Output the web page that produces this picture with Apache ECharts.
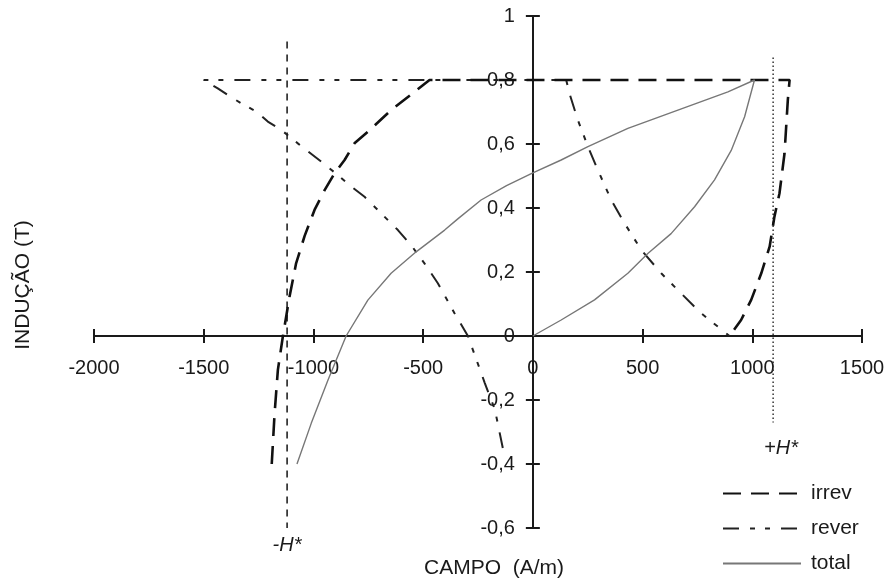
<!DOCTYPE html>
<html>
<head>
<meta charset="utf-8">
<script src="https://cdn.jsdelivr.net/npm/echarts@6/dist/echarts.min.js"></script>
<style>
  html, body { margin: 0; padding: 0; background: #fff; }
  #chart { width: 888px; height: 582px; }
</style>
</head>
<body>
<div id="chart"></div>
<script>
// campo H (A/m) e indução B (T)
var irrevH = [-1190, -1177, -1162, -1139, -1109, -1079, -1040, -995, -949, -904, -858, -813, -752, -646, -539, -471, 1170, 1162, 1147, 1124, 1101, 1079, 1041, 995, 949, 896];
var irrevB = [-0.4, -0.242, -0.106, 0, 0.123, 0.227, 0.313, 0.394, 0.456, 0.508, 0.55, 0.602, 0.638, 0.706, 0.763, 0.8, 0.8, 0.738, 0.571, 0.446, 0.373, 0.279, 0.196, 0.113, 0.05, 0];

var reverH = [-137, -173, -219, -296, -357, -433, -494, -555, -615, -691, -767, -828, -889, -965, -1071, -1147, -1208, -1257, -1329, -1390, -1436, -1500, 152, 167, 205, 251, 296, 357, 418, 494, 585, 676, 767, 896];
var reverB = [-0.35, -0.23, -0.147, 0, 0.071, 0.165, 0.227, 0.284, 0.331, 0.383, 0.435, 0.467, 0.503, 0.545, 0.602, 0.644, 0.67, 0.7, 0.727, 0.753, 0.774, 0.8, 0.8, 0.758, 0.675, 0.592, 0.519, 0.425, 0.352, 0.269, 0.196, 0.133, 0.071, 0];

var totalH = [-1075, -1010, -934, -851, -752, -646, -532, -402, -342, -236, -120, 0, 129, 251, 433, 661, 889, 1010, 965, 904, 828, 737, 630, 524, 433, 281, 129, 0];
var totalB = [-0.4, -0.273, -0.138, 0, 0.112, 0.196, 0.263, 0.331, 0.366, 0.425, 0.47, 0.51, 0.55, 0.592, 0.649, 0.706, 0.763, 0.8, 0.685, 0.58, 0.488, 0.404, 0.32, 0.258, 0.196, 0.113, 0.05, 0];

// linhas verticais -H* e +H*
var hMinusH = [-1120, -1120];
var hMinusB = [0.92, -0.6];
var hPlusH = [1095, 1095];
var hPlusB = [0.87, -0.27];

var seriesNames = ['irrev', 'rever', 'total'];

var X_MIN = -2000, X_MAX = 1500, X_STEP = 500;
var Y_MIN = -0.6, Y_MAX = 1, Y_STEP = 0.2;

function pairs(xs, ys) {
    return xs.map(function (x, i) { return [x, ys[i]]; });
}

function fmtY(v) {
    return String(Math.round(v * 10) / 10).replace('.', ',');
}
function fmtX(v) {
    return String(Math.round(v));
}

var FONT = 'Liberation Sans, Arial, sans-serif';
var INK = '#1a1a1a';

var W = 888, H = 582;
var grid = { left: 94, right: 26, top: 16, bottom: 54 };
var gridW = W - grid.left - grid.right;
var gridH = H - grid.top - grid.bottom;
// deslocamento para pôr os rótulos junto aos eixos que cruzam no zero
var xLabelOffset = -gridH * (0 - Y_MIN) / (Y_MAX - Y_MIN);
var yLabelOffset = -gridW * (0 - X_MIN) / (X_MAX - X_MIN);

var myChart = echarts.init(document.getElementById('chart'));

var option = {
    animation: false,
    backgroundColor: '#fff',
    grid: grid,
    xAxis: [
        {
            type: 'value', min: X_MIN, max: X_MAX, interval: X_STEP, position: 'bottom',
            axisLine: { onZero: true, lineStyle: { color: INK, width: 2 } },
            axisTick: { length: 7, lineStyle: { color: INK, width: 2 } },
            axisLabel: { show: false },
            splitLine: { show: false }
        },
        {
            type: 'value', min: X_MIN, max: X_MAX, interval: X_STEP, position: 'bottom',
            offset: xLabelOffset,
            axisLine: { show: false, onZero: false },
            axisTick: { show: true, inside: true, length: 7, lineStyle: { color: INK, width: 2 } },
            axisLabel: { margin: 22, fontSize: 20, color: INK, fontFamily: FONT, formatter: fmtX },
            splitLine: { show: false }
        }
    ],
    yAxis: [
        {
            type: 'value', min: Y_MIN, max: Y_MAX, interval: Y_STEP, position: 'left',
            axisLine: { onZero: true, lineStyle: { color: INK, width: 2 } },
            axisTick: { length: 7, lineStyle: { color: INK, width: 2 } },
            axisLabel: { show: false },
            splitLine: { show: false }
        },
        {
            type: 'value', min: Y_MIN, max: Y_MAX, interval: Y_STEP, position: 'left',
            offset: yLabelOffset,
            axisLine: { show: false, onZero: false },
            axisTick: { show: true, inside: true, length: 7, lineStyle: { color: INK, width: 2 } },
            axisLabel: { margin: 18, fontSize: 20, color: INK, fontFamily: FONT, formatter: fmtY },
            splitLine: { show: false }
        }
    ],
    legend: {
        data: seriesNames,
        orient: 'vertical',
        left: 722, top: 483, padding: 0,
        itemWidth: 78, itemHeight: 14, itemGap: 14,
        itemStyle: { opacity: 0 },
        textStyle: { fontSize: 21, color: INK, fontFamily: FONT, padding: [0, 0, 0, 5], lineHeight: 21 }
    },
    graphic: [
        { type: 'text', x: 23, y: 285, rotation: Math.PI / 2,
          style: { text: 'INDUÇÃO (T)', fontSize: 21, fontFamily: FONT, fill: INK, align: 'center', verticalAlign: 'middle' } },
        { type: 'text', x: 494, y: 568,
          style: { text: 'CAMPO  (A/m)', fontSize: 21, fontFamily: FONT, fill: INK, align: 'center', verticalAlign: 'middle' } },
        { type: 'text', x: 287, y: 545,
          style: { text: '-H*', fontSize: 20, fontStyle: 'italic', fontFamily: FONT, fill: INK, align: 'center', verticalAlign: 'middle' } },
        { type: 'text', x: 781, y: 448,
          style: { text: '+H*', fontSize: 20, fontStyle: 'italic', fontFamily: FONT, fill: INK, align: 'center', verticalAlign: 'middle' } }
    ],
    series: [
        {
            name: 'irrev', type: 'line', symbol: 'none', z: 4,
            data: pairs(irrevH, irrevB),
            lineStyle: { color: '#111', width: 2.6, type: [18, 10] },
            itemStyle: { color: '#111' }
        },
        {
            name: 'rever', type: 'line', symbol: 'none', z: 3,
            data: pairs(reverH, reverB),
            lineStyle: { color: '#222', width: 2, type: [16, 11, 5, 10, 5, 11] },
            itemStyle: { color: '#222' }
        },
        {
            name: 'total', type: 'line', symbol: 'none', z: 5,
            data: pairs(totalH, totalB),
            lineStyle: { color: '#777', width: 1.4 },
            itemStyle: { color: '#777' }
        },
        {
            name: '-H*', type: 'line', symbol: 'none', z: 2, clip: false,
            data: pairs(hMinusH, hMinusB),
            lineStyle: { color: '#222', width: 1.6, type: [7, 6] }
        },
        {
            name: '+H*', type: 'line', symbol: 'none', z: 2,
            data: pairs(hPlusH, hPlusB),
            lineStyle: { color: '#333', width: 1.5, type: [1.5, 2.5] }
        }
    ]
};

myChart.setOption(option);
</script>
</body>
</html>
